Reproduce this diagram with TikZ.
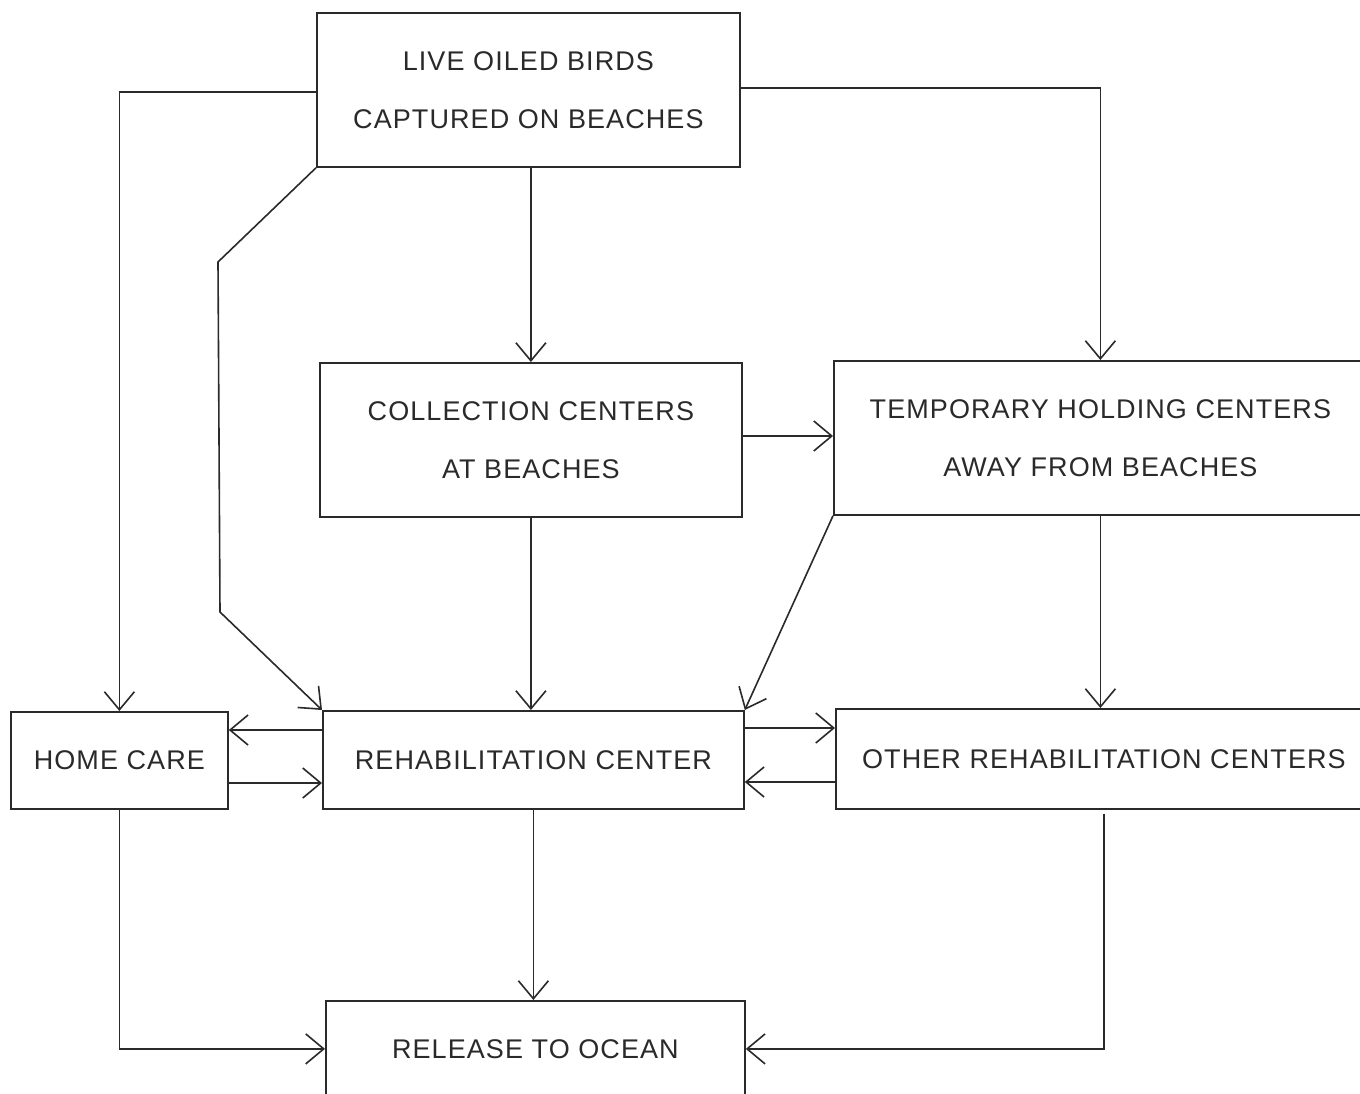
\documentclass[tikz,border=0pt]{standalone}
\usepackage{fontspec}
\setmainfont{Liberation Sans}[LetterSpace=4]
\usetikzlibrary{arrows.meta}
\definecolor{ink}{HTML}{2A2A2A}
\tikzset{
  box/.style={draw=ink, line width=1.8pt, anchor=north west, inner sep=0pt,
    text=ink, align=center, font=\fontsize{27}{58}\selectfont},
  arr/.style={draw=ink, line width=1.6pt,
    -{Straight Barb[length=18pt, width=30pt, line width=1.6pt]}},
  link/.style={draw=ink, line width=1.6pt}
}
\begin{document}
\begin{tikzpicture}[x=1pt, y=-1pt]
\useasboundingbox (0,0) rectangle (1360,1094);
\fill[white] (0,0) rectangle (1360,1094);
\clip (0,0) rectangle (1360,1094);
\node[box, minimum width=423pt, minimum height=154pt] (top) at (316,12)
  {LIVE OILED BIRDS\\CAPTURED ON BEACHES};
\node[box, minimum width=422pt, minimum height=154pt] (coll) at (319,362)
  {COLLECTION CENTERS\\AT BEACHES};
\node[box, minimum width=533pt, minimum height=154pt] (temp) at (833,360)
  {TEMPORARY HOLDING CENTERS\\AWAY FROM BEACHES};
\node[box, minimum width=217pt, minimum height=97pt] (home) at (10,711)
  {HOME CARE};
\node[box, minimum width=421pt, minimum height=98pt] (rehab) at (322,710)
  {REHABILITATION CENTER};
\node[box, minimum width=536pt, minimum height=100pt] (other) at (835,708)
  {OTHER REHABILITATION CENTERS};
\node[box, minimum width=419pt, minimum height=96pt] (rel) at (325,1000)
  {RELEASE TO OCEAN};
\coordinate (b1) at (218,262);
\coordinate (b2) at (220,612);
% from top box
\draw[arr] (top.west |- 0,92) -| (home.north);
\draw[arr] (top.east |- 0,88) -| (temp.north);
\draw[arr] (top.south -| coll.north) -- (coll.north);
\draw[arr] (top.south west) -- (b1) -- (b2) -- (rehab.north west);
% middle row
\draw[arr] (coll.east |- 0,436) -- (temp.west |- 0,436);
\draw[arr] (coll.south) -- (rehab.north -| coll.south);
\draw[arr] (temp.south west) -- (rehab.north east);
\draw[arr] (temp.south) -- (other.north -| temp.south);
% lateral exchanges
\draw[arr] (rehab.west |- 0,730) -- (home.east |- 0,730);
\draw[arr] (home.east |- 0,783) -- (rehab.west |- 0,783);
\draw[arr] (rehab.east |- 0,728) -- (other.west |- 0,728);
\draw[arr] (other.west |- 0,782) -- (rehab.east |- 0,782);
% to release
\draw[arr] (home.south) |- (rel.west);
\draw[arr] (rehab.south) -- (rel.north -| rehab.south);
\draw[arr] ([yshift=-4pt]other.south) |- (rel.east);
\end{tikzpicture}
\end{document}
